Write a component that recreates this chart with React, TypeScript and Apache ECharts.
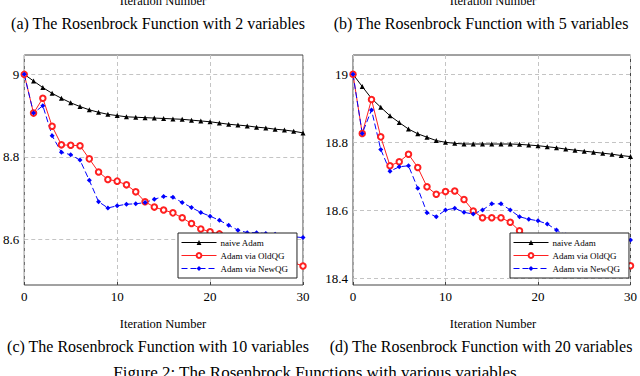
import React, { useEffect, useRef } from "react";
import * as echarts from "echarts";

// Iteration numbers (x values)
const iterations = [0, 1, 2, 3, 4, 5, 6, 7, 8, 9, 10, 11, 12, 13, 14, 15, 16, 17, 18, 19, 20, 21, 22, 23, 24, 25, 26, 27, 28, 29, 30];

// (c) Rosenbrock with 10 variables (left panel)
const naiveLeft = [9.0, 8.984, 8.968, 8.954, 8.942, 8.931, 8.922, 8.914, 8.908, 8.903, 8.9, 8.897, 8.896, 8.895, 8.894, 8.893, 8.892, 8.891, 8.889, 8.887, 8.885, 8.882, 8.879, 8.877, 8.875, 8.872, 8.87, 8.867, 8.865, 8.862, 8.858];
const oldLeft = [9.0, 8.906, 8.942, 8.874, 8.829, 8.828, 8.827, 8.795, 8.763, 8.745, 8.741, 8.732, 8.715, 8.691, 8.678, 8.671, 8.664, 8.652, 8.638, 8.625, 8.618, 8.613, 8.605, 8.598, 8.59, 8.582, 8.573, 8.562, 8.552, 8.543, 8.535];
const newLeft = [9.0, 8.906, 8.924, 8.851, 8.811, 8.805, 8.792, 8.743, 8.691, 8.676, 8.681, 8.685, 8.686, 8.689, 8.697, 8.704, 8.702, 8.689, 8.677, 8.665, 8.656, 8.646, 8.634, 8.622, 8.616, 8.616, 8.614, 8.612, 8.609, 8.606, 8.604];

// (d) Rosenbrock with 20 variables (right panel)
const naiveRight = [19.0, 18.964, 18.929, 18.903, 18.878, 18.858, 18.839, 18.825, 18.815, 18.805, 18.8, 18.797, 18.795, 18.795, 18.795, 18.795, 18.795, 18.795, 18.794, 18.792, 18.79, 18.787, 18.784, 18.78, 18.777, 18.774, 18.771, 18.768, 18.765, 18.761, 18.758];
const oldRight = [19.0, 18.826, 18.926, 18.816, 18.731, 18.743, 18.765, 18.726, 18.669, 18.647, 18.655, 18.657, 18.632, 18.598, 18.578, 18.578, 18.578, 18.565, 18.54, 18.522, 18.512, 18.503, 18.494, 18.485, 18.477, 18.468, 18.46, 18.453, 18.447, 18.442, 18.437];
const newRight = [19.0, 18.826, 18.895, 18.779, 18.715, 18.728, 18.731, 18.665, 18.593, 18.581, 18.601, 18.606, 18.594, 18.589, 18.601, 18.619, 18.619, 18.601, 18.581, 18.574, 18.569, 18.56, 18.542, 18.527, 18.521, 18.518, 18.516, 18.514, 18.513, 18.511, 18.513];

const yTicksLeft = [8.6, 8.8, 9];
const yTicksRight = [18.4, 18.6, 18.8, 19];
const xTicks = [0, 10, 20, 30];

const seriesNames = ["naive Adam", "Adam via OldQG", "Adam via NewQG"];
const captionsTop = ["(a) The Rosenbrock Function with 2 variables", "(b) The Rosenbrock Function with 5 variables"];
const captionsBottom = ["(c) The Rosenbrock Function with 10 variables", "(d) The Rosenbrock Function with 20 variables"];
const axisTitle = "Iteration Number";
const figureCaption = "Figure 2: The Rosenbrock Functions with various variables";

const FONT = "Liberation Serif";

function pairs(vals: number[]) {
  return iterations.map((x, i) => [x, vals[i]]);
}

function makeSeries(idx: number, naive: number[], oldv: number[], newv: number[], gridTicks: number[]) {
  return [
    {
      type: "line",
      name: "__grid" + idx,
      xAxisIndex: idx,
      yAxisIndex: idx,
      data: [],
      silent: true,
      z: 1,
      markLine: {
        silent: true,
        symbol: "none",
        z: 1,
        label: { show: false },
        lineStyle: { color: "#c4c4c4", type: [4, 3], width: 1 },
        data: gridTicks.map((v) => ({ yAxis: v })),
      },
    },
    {
      type: "line",
      name: seriesNames[0],
      xAxisIndex: idx,
      yAxisIndex: idx,
      data: pairs(naive),
      symbol: "triangle",
      symbolSize: 5,
      z: 3,
      itemStyle: { color: "#000" },
      lineStyle: { color: "#000", width: 1 },
    },
    {
      type: "line",
      name: seriesNames[1],
      xAxisIndex: idx,
      yAxisIndex: idx,
      data: pairs(oldv),
      symbol: "emptyCircle",
      symbolSize: 5.5,
      z: 3,
      itemStyle: { color: "#ff2020", borderColor: "#ff2020", borderWidth: 0.9 },
      lineStyle: { color: "#ff2020", width: 1 },
    },
    {
      type: "line",
      name: seriesNames[2],
      xAxisIndex: idx,
      yAxisIndex: idx,
      data: pairs(newv),
      symbol: "diamond",
      symbolSize: 5,
      z: 3,
      itemStyle: { color: "#0000ff" },
      lineStyle: { color: "#0000ff", width: 1, type: [6, 3] },
    },
  ];
}

function makeXAxis(idx: number) {
  return {
    type: "value",
    gridIndex: idx,
    min: 0,
    max: 30,
    interval: 10,
    axisLine: { show: false },
    axisTick: { show: true, inside: true, length: 3, lineStyle: { color: "#444" } },
    axisLabel: { color: "#000", fontFamily: FONT, fontSize: 13, margin: 5, customValues: xTicks },
    splitLine: { show: true, lineStyle: { color: "#c4c4c4", type: [4, 3], width: 1 } },
  };
}

function makeYAxis(idx: number, min: number, max: number, ticks: number[]) {
  return {
    type: "value",
    gridIndex: idx,
    min,
    max,
    axisLine: { show: false },
    axisTick: { show: true, inside: true, length: 3, customValues: ticks, lineStyle: { color: "#444" } },
    axisLabel: { color: "#000", fontFamily: FONT, fontSize: 13, margin: 5, customValues: ticks },
    splitLine: { show: false },
  };
}

function makeLegend(left: number) {
  return {
    data: seriesNames,
    orient: "vertical",
    left,
    top: 233,
    padding: [5, 9, 5, 3],
    itemWidth: 35,
    itemHeight: 6,
    itemGap: 4,
    backgroundColor: "#fff",
    borderColor: "#222",
    borderWidth: 1,
    borderRadius: 0,
    selectedMode: false,
    lineStyle: { width: 1 },
    textStyle: { fontFamily: FONT, fontSize: 9, color: "#000", padding: [0, 0, 0, -1] },
  };
}

function text(str: string, x: number, y: number, size: number) {
  return {
    type: "text",
    x,
    y,
    silent: true,
    style: {
      text: str,
      fontFamily: FONT,
      fontSize: size,
      fill: "#000",
      align: "center",
      verticalAlign: "middle",
      textAlign: "center",
      textVerticalAlign: "middle",
    },
  };
}

export default function App() {
  const ref = useRef<HTMLDivElement>(null);
  useEffect(() => {
    if (!ref.current) return;
    const chart = echarts.init(ref.current, undefined, { renderer: "svg" });
    chart.setOption({
      animation: false,
      backgroundColor: "#fff",
      textStyle: { fontFamily: FONT },
      grid: [
        { left: 23, right: 337, top: 55, bottom: 91, show: true, borderColor: "#444", borderWidth: 1, backgroundColor: "transparent" },
        { left: 353, right: 7, top: 55, bottom: 91, show: true, borderColor: "#444", borderWidth: 1, backgroundColor: "transparent" },
      ],
      xAxis: [makeXAxis(0), makeXAxis(1)],
      yAxis: [makeYAxis(0, 8.489, 9.047, yTicksLeft), makeYAxis(1, 18.3803, 19.0568, yTicksRight)],
      legend: [makeLegend(178), makeLegend(510)],
      series: [
        ...makeSeries(0, naiveLeft, oldLeft, newLeft, yTicksLeft),
        ...makeSeries(1, naiveRight, oldRight, newRight, yTicksRight),
      ],
      graphic: [
        text(axisTitle, 163, 1, 12.5),
        text(axisTitle, 493, 1, 12.5),
        text(captionsTop[0], 158, 23, 16),
        text(captionsTop[1], 481, 23, 16),
        text(axisTitle, 163, 324, 12.5),
        text(axisTitle, 493, 324, 12.5),
        text(captionsBottom[0], 158, 346, 16),
        text(captionsBottom[1], 481, 346, 16),
        text(figureCaption, 315, 372, 17),
      ],
    });
    return () => chart.dispose();
  }, []);
  return (
    <div
      ref={ref}
      style={{ position: "fixed", left: 0, top: 0, width: 640, height: 376, background: "#fff" }}
    />
  );
}
